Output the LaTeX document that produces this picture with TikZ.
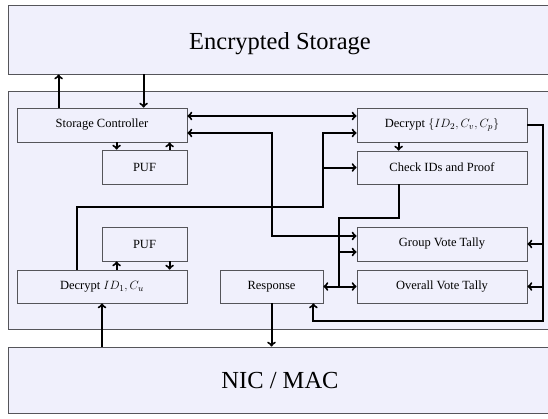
\documentclass[tikz,border=0pt]{standalone}
\usepackage{fontspec}
\setmainfont{Liberation Serif}
\usetikzlibrary{calc}
\definecolor{lav}{RGB}{240,240,252}
\definecolor{edge}{RGB}{85,85,90}
\begin{document}
\begin{tikzpicture}[x=1pt,y=-1pt,
  frame/.style={draw=edge,line width=0.9pt,fill=lav,rectangle,inner sep=0pt,minimum width=544pt},
  blk/.style={draw=edge,line width=0.8pt,fill=lav,rectangle,inner sep=0pt,minimum height=34pt,font=\fontsize{12.5}{15}\selectfont},
  big/.style={font=\fontsize{24.5}{29}\selectfont},
  wire/.style={line width=2pt},
  arr/.style={wire,->},
  darr/.style={wire,<->}]
\useasboundingbox (0,0) rectangle (548,418);
\clip (0,0) rectangle (548,418);
% frames
\node[frame,big,minimum height=69pt,text height=21pt,text depth=2pt] (es) at (280,39.5) {Encrypted Storage};
\node[frame,minimum height=238pt] (core) at (280,210) {};
\node[frame,big,minimum height=66pt] (nic) at (280,380) {NIC / MAC};
% blocks
\node[blk,minimum width=170pt] (sc) at (102,125) {Storage Controller};
\node[blk,minimum width=85pt] (puf1) at (144.5,167) {PUF};
\node[blk,minimum width=170pt] (d2) at (442,125) {Decrypt $\{ID_2,C_v,C_p\}$};
\node[blk,minimum width=170pt,minimum height=33pt] (chk) at (442,167.5) {Check IDs and Proof};
\node[blk,minimum width=85pt] (puf2) at (144.5,244) {PUF};
\node[blk,minimum width=170pt,minimum height=33pt] (d1) at (102,286.5) {Decrypt $ID_1,C_u$};
\node[blk,minimum width=103pt,minimum height=33pt] (resp) at (271.5,286.5) {Response};
\node[blk,minimum width=170pt] (gvt) at (442,244) {Group Vote Tally};
\node[blk,minimum width=170pt,minimum height=33pt] (ovt) at (442,286.5) {Overall Vote Tally};
% helper coordinates
\coordinate (v1) at (272,0);
\coordinate (busA) at (323,207);
\coordinate (busB) at (339,218);
\coordinate (busC) at (543,321);
\coordinate (g1) at ([yshift=8pt]gvt.west);
\coordinate (g2) at ([yshift=-8pt]gvt.west);
% storage links
\draw[arr] ([xshift=42pt]sc.north west) -- ([xshift=42pt]sc.north west |- es.south);
\draw[arr] ([xshift=127pt]sc.north west |- es.south) -- ([xshift=127pt]sc.north west);
% PUF links
\draw[arr] ([xshift=100pt]sc.south west) -- ([xshift=100pt]sc.south west |- puf1.north);
\draw[arr] ([xshift=153pt]sc.south west |- puf1.north) -- ([xshift=153pt]sc.south west);
\draw[arr] ([xshift=100pt]d1.north west) -- ([xshift=100pt]d1.north west |- puf2.south);
\draw[arr] ([xshift=153pt]d1.north west |- puf2.south) -- ([xshift=153pt]d1.north west);
% NIC links
\draw[arr] (d1.south |- nic.north) -- (d1.south);
\draw[arr] (resp.south) -- (resp.south |- nic.north);
% decrypt -> check
\draw[arr] ([xshift=42pt]d2.south west) -- ([xshift=42pt]d2.south west |- chk.north);
% controller <-> decrypt2
\draw[darr] ([yshift=9pt]sc.east) -- ([yshift=9pt]sc.east -| d2.west);
% controller <-> group tally
\draw[darr] ([yshift=-8pt]sc.east) -| (v1 |- g1) -- (g1);
% decrypt1 -> decrypt2 / check
\draw[arr] ([xshift=60pt]d1.north west) |- (busA) |- ([yshift=-8pt]d2.west);
\draw[arr] (busA |- chk.west) -- (chk.west);
% check -> tallies / response
\draw[wire] ([xshift=42pt]chk.south west) |- (busB) -- (busB |- ovt.west);
\draw[arr] (busB |- g2) -- (g2);
\draw[darr] (resp.east) -- (ovt.west);
% right bus
\draw[arr] (d2.east) -| (busC) -| ([xshift=-10pt]resp.south east);
\draw[arr] (busC |- gvt.east) -- (gvt.east);
\draw[arr] (busC |- ovt.east) -- (ovt.east);
\end{tikzpicture}
\end{document}
